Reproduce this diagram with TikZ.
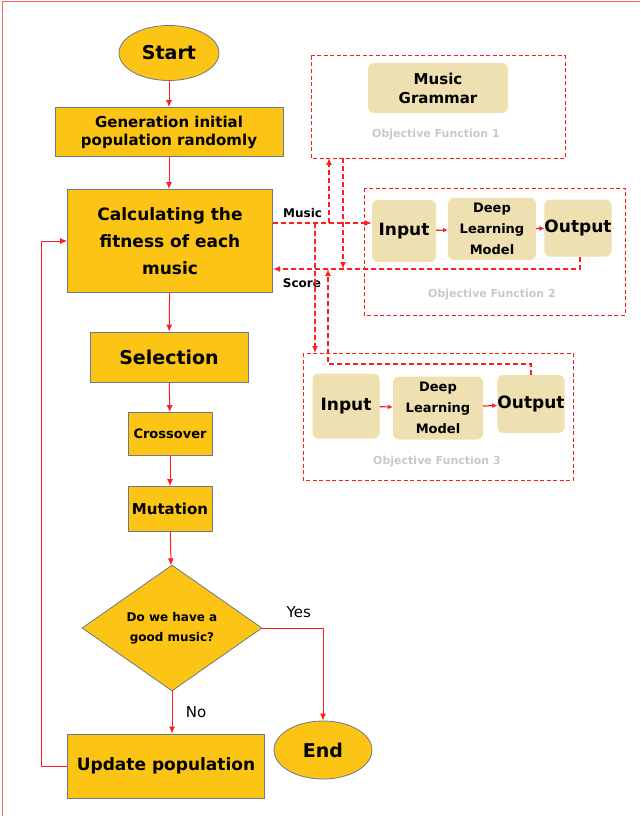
\documentclass[tikz,border=0pt]{standalone}
\usepackage{fontspec}
\setmainfont{DejaVu Sans}
\usetikzlibrary{shapes.geometric,arrows.meta,calc}
\definecolor{yel}{RGB}{252,196,20}
\definecolor{tan}{RGB}{238,224,176}
\definecolor{edge}{RGB}{110,120,140}
\definecolor{lnred}{RGB}{255,30,30}
\definecolor{gr}{RGB}{200,200,200}
\begin{document}
\begin{tikzpicture}[x=1pt,y=-1pt,
  box/.style={draw=edge,fill=yel,line width=0.8pt,inner sep=0pt,align=center,font=\bfseries},
  tbox/.style={fill=tan,rounded corners=6pt,inner sep=0pt,align=center,font=\bfseries},
  flow/.style={draw=lnred,line width=1pt,-{Latex[length=7pt,width=6pt]}},
  dflow/.style={draw=lnred,line width=1.4pt,dashed,dash pattern=on 5pt off 3pt,-{Latex[length=7pt,width=6pt]}},
  dline/.style={draw=lnred,line width=1.4pt,dashed,dash pattern=on 5pt off 3pt},
  ofbox/.style={draw=lnred,line width=1pt,dashed,dash pattern=on 4pt off 2.5pt},
  oflab/.style={text=gr,font=\bfseries\fontsize{11}{13}\selectfont},
  lab/.style={font=\bfseries\fontsize{12}{14}\selectfont}]
\useasboundingbox (0,0) rectangle (640,816);
\draw[lnred!70,line width=1pt] (2,816) -- (2,2) -- (640,2);
% main flow
\node[box,ellipse,minimum width=100pt,minimum height=55pt,font=\bfseries\fontsize{19}{22}\selectfont] (start) at (169,53) {Start};
\node[box,minimum width=228pt,minimum height=49pt,font=\bfseries\fontsize{15}{18}\selectfont] (gen) at (169,132) {Generation initial\\population randomly};
\node[box,minimum width=205pt,minimum height=103pt,font=\bfseries\fontsize{17}{27}\selectfont] (calc) at (170,241) {Calculating the\\fitness of each\\music};
\node[box,minimum width=158pt,minimum height=50pt,font=\bfseries\fontsize{19}{22}\selectfont] (sel) at (169,357) {Selection};
\node[box,minimum width=84pt,minimum height=43pt,font=\bfseries\fontsize{13}{15}\selectfont] (cross) at (170,434) {Crossover};
\node[box,minimum width=84pt,minimum height=45pt,font=\bfseries\fontsize{15}{17}\selectfont] (mut) at (170,509) {Mutation};
\node[box,diamond,minimum width=180pt,minimum height=126pt,aspect=1.43,font=\bfseries\fontsize{12}{20}\selectfont] (dec) at (172,628) {Do we have a\\good music?};
\node[box,minimum width=197pt,minimum height=64pt,font=\bfseries\fontsize{17}{20}\selectfont] (upd) at (166,766) {Update population};
\node[box,ellipse,minimum width=98pt,minimum height=58pt,font=\bfseries\fontsize{19}{22}\selectfont] (end) at (323,750) {End};
\draw[flow] (start) -- (gen);
\draw[flow] (gen) -- (calc.north -| gen.south);
\draw[flow] (calc) -- (sel);
\draw[flow] (sel) -- (cross);
\draw[flow] (cross) -- (mut);
\draw[flow] (mut) -- (dec);
\draw[flow] (dec.south) -- (dec.south |- upd.north) node[midway,right=10pt,lab,font=\fontsize{15}{17}\selectfont] (no) {No};
\draw[flow] (dec.east) -| (end.north) node[pos=0.3,above=6pt,font=\fontsize{15}{17}\selectfont] (yes) {Yes};
\coordinate (lp) at (41,766);
\draw[flow] (upd.west) -- (lp) |- (calc.west);
% objective boxes
\draw[ofbox] (311,56) rectangle (565,158);
\coordinate (of1b) at (329,158);
\node[tbox,minimum width=140pt,minimum height=50pt,font=\bfseries\fontsize{15}{19}\selectfont] (mg) at (438,88) {Music\\Grammar};
\node[oflab] (l1) at (436,135) {Objective Function 1};
\draw[ofbox] (364,188) rectangle (625,315);
\node[tbox,minimum width=64pt,minimum height=62pt,font=\bfseries\fontsize{17}{20}\selectfont] (in2) at (404,231) {Input};
\node[tbox,minimum width=88pt,minimum height=62pt,font=\bfseries\fontsize{13}{21}\selectfont] (dl2) at (492,229) {Deep\\Learning\\Model};
\node[tbox,minimum width=64pt,minimum height=57pt,font=\bfseries\fontsize{17}{20}\selectfont] (out2) at (578,228) {Output};
\node[oflab] (l2) at (492,295) {Objective Function 2};
\draw[flow,line width=1.2pt,-{Latex[length=5pt,width=5pt]}] (in2) -- (dl2);
\draw[flow,line width=1.2pt,-{Latex[length=5pt,width=5pt]}] (dl2) -- (out2);
\draw[ofbox] (303,353) rectangle (573,480);
\node[tbox,minimum width=67pt,minimum height=65pt,font=\bfseries\fontsize{17}{20}\selectfont] (in3) at (346,406) {Input};
\node[tbox,minimum width=90pt,minimum height=63pt,font=\bfseries\fontsize{13}{21}\selectfont] (dl3) at (438,408) {Deep\\Learning\\Model};
\node[tbox,minimum width=66pt,minimum height=58pt,font=\bfseries\fontsize{17}{20}\selectfont] (out3) at (531,404) {Output};
\node[oflab] (l3) at (437,462) {Objective Function 3};
\draw[flow,line width=1.2pt,-{Latex[length=5pt,width=5pt]}] (in3) -- (dl3);
\draw[flow,line width=1.2pt,-{Latex[length=5pt,width=5pt]}] (dl3) -- (out3);
% dashed connections
\coordinate (mL) at (273,223);
\coordinate (sL) at (273,269);
\draw[dflow] (mL) -- (in2.west |- mL) node[pos=0.3,above=1pt,lab,text=black] (music) {Music};
\draw[dflow] (out2.south -| 580,0) |- (sL);
\node[lab] (score) at (302,283) {Score};
\draw[dflow] (329,223) -- (of1b);
\draw[dflow] (343,158) -- (343,269);
\draw[dflow] (315,223) -- (315,353);
\draw[dflow] (out3.north) -- (531,364) -| (328,269);
\end{tikzpicture}
\end{document}
